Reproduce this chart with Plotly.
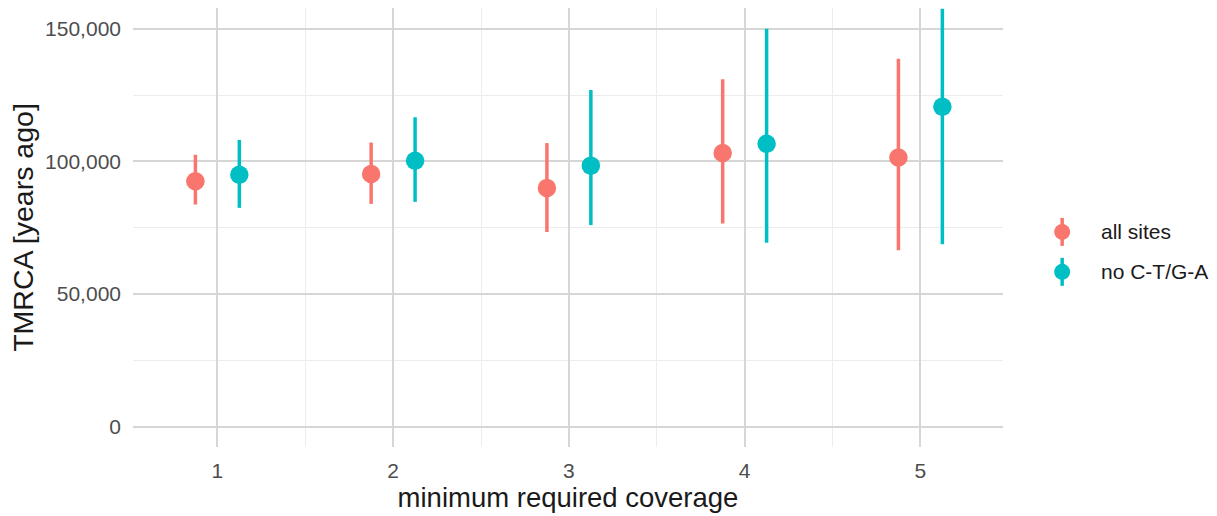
import plotly.graph_objects as go

# Coverage thresholds and TMRCA estimates (years ago) with interval bounds
coverage = [1, 2, 3, 4, 5]
dodge = 0.125

all_sites_mid = [92500, 95250, 90000, 103150, 101500]
all_sites_low = [83750, 84000, 73400, 76650, 66500]
all_sites_high = [102500, 107100, 106900, 131000, 138650]

no_ct_ga_mid = [95000, 100250, 98400, 106650, 120600]
no_ct_ga_low = [82500, 84750, 76000, 69400, 68750]
no_ct_ga_high = [108100, 116650, 126900, 150000, 157500]

series_names = ["all sites", "no C-T/G-A"]
series_colors = ["#F8766D", "#00BFC4"]

series = [
    (series_names[0], -dodge, all_sites_mid, all_sites_low, all_sites_high, series_colors[0]),
    (series_names[1], dodge, no_ct_ga_mid, no_ct_ga_low, no_ct_ga_high, series_colors[1]),
]

fig = go.Figure()
for name, off, mid, low, high, color in series:
    fig.add_trace(go.Scatter(
        x=[c + off for c in coverage],
        y=mid,
        mode="markers",
        name=name,
        showlegend=False,
        marker=dict(color=color, size=18.5, line=dict(width=0)),
        error_y=dict(
            type="data",
            symmetric=False,
            array=[h - m for h, m in zip(high, mid)],
            arrayminus=[m - l for m, l in zip(mid, low)],
            color=color,
            thickness=3.5,
            width=0,
        ),
    ))

# Legend drawn as point-range keys (dot with a vertical stroke) plus labels
key_x = 1.068
label_x = 1.110
key_y = [0.490, 0.399]
for name, color, ky in zip(series_names, series_colors, key_y):
    fig.add_shape(type="line", xref="paper", yref="paper",
                  xsizemode="pixel", xanchor=key_x, x0=0, x1=0,
                  ysizemode="pixel", yanchor=ky, y0=-14, y1=14,
                  line=dict(color=color, width=3.5))
    fig.add_shape(type="circle", xref="paper", yref="paper",
                  xsizemode="pixel", xanchor=key_x, x0=-8, x1=8,
                  ysizemode="pixel", yanchor=ky, y0=-8, y1=8,
                  fillcolor=color, line=dict(width=0))
    fig.add_annotation(text=name, xref="paper", yref="paper",
                       x=label_x, y=ky, xanchor="left", yanchor="middle",
                       showarrow=False,
                       font=dict(size=21, color="#1a1a1a"))

font_family = "Liberation Sans, Arial, sans-serif"

fig.update_layout(
    width=1217,
    height=516,
    margin=dict(l=133, r=214, t=8, b=69),
    paper_bgcolor="white",
    plot_bgcolor="white",
    font=dict(family=font_family, color="#4d4d4d", size=21),
    showlegend=False,
    xaxis=dict(
        range=[0.52, 5.47],
        tickmode="array",
        tickvals=coverage,
        ticktext=[str(c) for c in coverage],
        showgrid=True,
        gridcolor="#d6d6d6",
        gridwidth=1.6,
        minor=dict(dtick=0.5, tick0=0.5, showgrid=True, gridcolor="#ececec", gridwidth=1),
        zeroline=False,
        showline=False,
        ticks="",
        ticklabelstandoff=9,
        tickfont=dict(size=21, color="#4d4d4d"),
        title=dict(text="minimum required coverage",
                   font=dict(size=27.5, color="#1a1a1a"), standoff=3),
        automargin=False,
    ),
    yaxis=dict(
        range=[-7600, 157800],
        tickvals=[0, 50000, 100000, 150000],
        tickformat=",d",
        showgrid=True,
        gridcolor="#d6d6d6",
        gridwidth=1.6,
        minor=dict(tickvals=[25000, 75000, 125000], showgrid=True, gridcolor="#ececec", gridwidth=1),
        zeroline=False,
        showline=False,
        ticks="",
        ticklabelstandoff=11,
        tickfont=dict(size=21, color="#4d4d4d"),
        title=dict(text="TMRCA [years ago]",
                   font=dict(size=28.5, color="#1a1a1a"), standoff=3),
        automargin=False,
    ),
)

fig.write_html("out.html")
